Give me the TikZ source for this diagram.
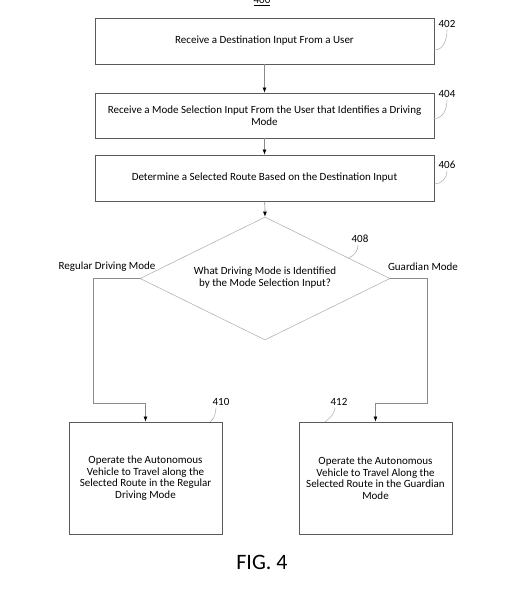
\documentclass[tikz,border=0pt]{standalone}
\usepackage{fontspec}
\setmainfont{Carlito}
\usetikzlibrary{shapes.geometric,arrows.meta}
\definecolor{boxgray}{HTML}{5A5A5A}
\definecolor{linegray}{HTML}{8A8A8A}
\definecolor{leadgray}{HTML}{B4B4B4}

\begin{document}
\begin{tikzpicture}[x=1pt,y=-1pt,>={Latex[length=5pt,width=4pt,black]},
	stepbox/.style={draw=boxgray,line width=0.9pt,minimum width=339pt,inner sep=0pt,align=center,font=\fontsize{11}{11.5}\selectfont},
	modebox/.style={draw=boxgray,line width=0.9pt,minimum width=153pt,minimum height=112pt,inner sep=0pt,align=center,font=\fontsize{11}{11.5}\selectfont},
	decision/.style={diamond,draw=leadgray,line width=0.6pt,minimum width=250pt,minimum height=123pt,inner sep=0pt},
	flow/.style={draw=linegray,line width=0.7pt},
	leader/.style={draw=leadgray,line width=0.6pt},
	refnum/.style={inner sep=0pt,font=\fontsize{11}{12}\selectfont},
	branch/.style={inner sep=0pt,font=\fontsize{11}{12}\selectfont}]
	\useasboundingbox (0,0) rectangle (520,600);
	\node [refnum,anchor=base] (n400) at (262,3.5) {\underline{400}};
	\node [stepbox,minimum height=46pt] (b402) at (264.5,41) {Receive a Destination Input From a User};
	\node [stepbox,minimum height=45pt] (b404) at (264.5,115.5) {Receive a Mode Selection Input From the User that Identifies a Driving\\Mode};
	\node [stepbox,minimum height=46pt] (b406) at (264.5,178) {Determine a Selected Route Based on the Destination Input};
	\node [decision] (d408) at (265,278.5) {};
	\node [branch,align=center] (q408) at (265,278) {What Driving Mode is Identified\\by the Mode Selection Input?};
	\node [modebox] (b410) at (145.5,478) {Operate the Autonomous\\Vehicle to Travel along the\\Selected Route in the Regular\\Driving Mode};
	\node [modebox] (b412) at (375.5,478) {Operate the Autonomous\\Vehicle to Travel Along the\\Selected Route in the Guardian\\Mode};
	\node [branch] (t410) at (107,267) {Regular Driving Mode};
	\node [branch] (t412) at (423,267) {Guardian Mode};
	\node [refnum] (n402) at (447,24) {402};
	\node [refnum] (n404) at (447,94) {404};
	\node [refnum] (n406) at (447,165) {406};
	\node [refnum] (n408) at (360,239) {408};
	\node [refnum] (n410) at (221,402) {410};
	\node [refnum] (n412) at (339,402) {412};
	\node [font=\fontsize{22}{26}\selectfont] (fig) at (262,562) {FIG. 4};
	\coordinate (l408) at (93,403);
	\coordinate (r408) at (427,403);
	\draw [flow,->] (b402) -- (b404);
	\draw [flow,->] (b404) -- (b406);
	\draw [flow,->] (b406) -- (d408.north);
	\draw [flow,->] (d408.west) -| (l408) -| (b410.north);
	\draw [flow,->] (d408.east) -| (r408) -| (b412.north);
	\draw [leader] ([yshift=-2pt]n402.south) to[out=-90,in=0] ([yshift=-9pt]b402.east);
	\draw [leader] ([yshift=-2pt]n404.south) to[out=-90,in=0] ([yshift=-3pt]b404.east);
	\draw [leader] ([yshift=-2pt]n406.south) to[out=-90,in=0] ([yshift=-6pt]b406.east);
	\draw [leader] ([xshift=-2pt,yshift=-2pt]n408.south) to[out=-90,in=30] (349,258);
	\draw [leader] ([xshift=-5pt,yshift=-2pt]n410.south) to[out=-95,in=40] (210,422);
	\draw [leader] ([xshift=-4pt,yshift=-2pt]n412.south) to[out=-95,in=40] (325,422);
\end{tikzpicture}
\end{document}
